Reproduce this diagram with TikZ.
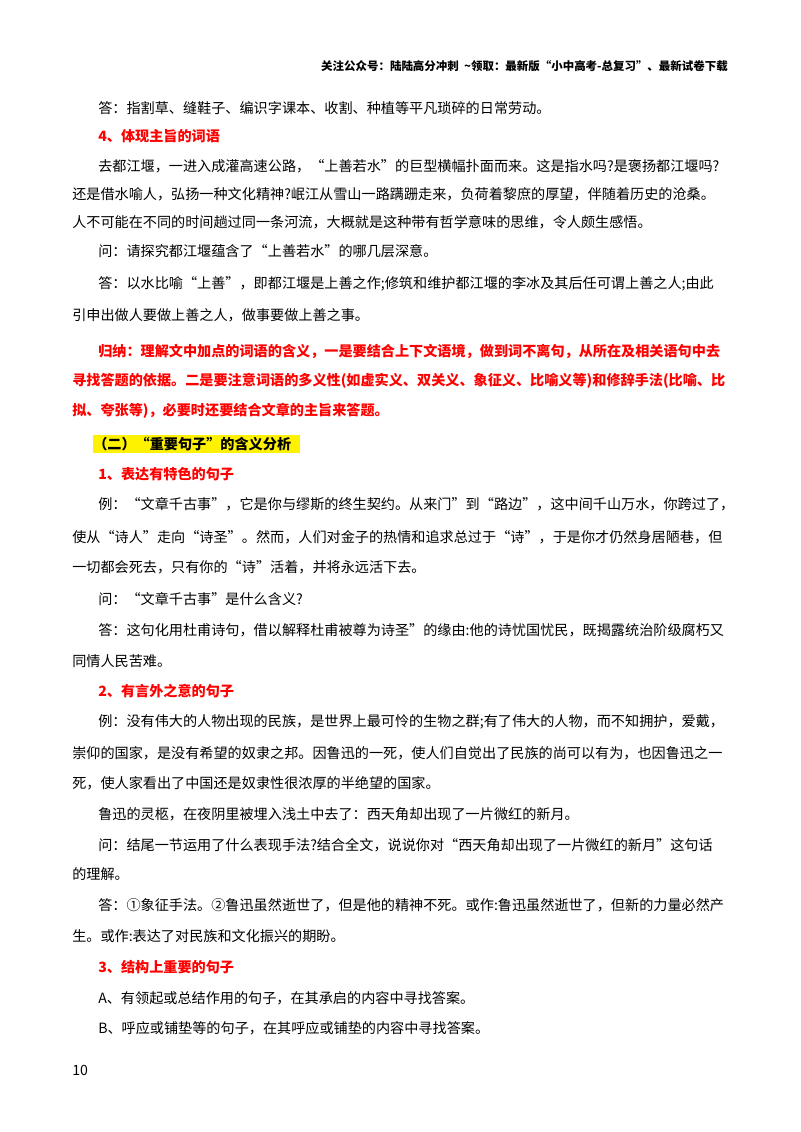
\documentclass[tikz,border=0pt]{standalone}
\usepackage{fontspec}
\setmainfont{Noto Sans CJK SC}
\newfontfamily\cjkbold{Noto Sans CJK SC Bold}
\newcommand{\bodyfont}{\fontsize{10.6}{13}\selectfont}
\begin{document}
\begin{tikzpicture}[x=0.75pt,y=-0.75pt,
  txt/.style={anchor=west,inner sep=0pt,font=\bodyfont},
  hd/.style={txt,text=red,font=\bodyfont\bfseries}]
\useasboundingbox[fill=white] (0,0) rectangle (800,1132);
\node[anchor=east,inner sep=0pt,font=\fontsize{8.6}{10}\selectfont\bfseries] (hdr) at (728,66) {关注公众号：陆陆高分冲刺\ \ \textasciitilde 领取：最新版“小中高考-总复习”、最新试卷下载};
\node[txt] (a1) at (98,108) {答：指割草、缝鞋子、编识字课本、收割、种植等平凡琐碎的日常劳动。};
\node[hd] (h4) at (98,136) {4、体现主旨的词语};
\node[txt] (p1) at (98,166) {去都江堰，一进入成灌高速公路，“上善若水”的巨型横幅扑面而来。这是指水吗?是褒扬都江堰吗?};
\node[txt] (p2) at (72,194) {还是借水喻人，弘扬一种文化精神?岷江从雪山一路蹒跚走来，负荷着黎庶的厚望，伴随着历史的沧桑。};
\node[txt] (p3) at (72,222) {人不可能在不同的时间趟过同一条河流，大概就是这种带有哲学意味的思维，令人颇生感悟。};
\node[txt] (q1) at (98,251) {问：请探究都江堰蕴含了“上善若水”的哪几层深意。};
\node[txt] (a2) at (98,284) {答：以水比喻“上善”，即都江堰是上善之作;修筑和维护都江堰的李冰及其后任可谓上善之人;由此};
\node[txt] (a3) at (72,315) {引申出做人要做上善之人，做事要做上善之事。};
\node[hd] (g1) at (98,351) {归纳：理解文中加点的词语的含义，一是要结合上下文语境，做到词不离句，从所在及相关语句中去};
\node[hd] (g2) at (72,381) {寻找答题的依据。二是要注意词语的多义性(如虚实义、双关义、象征义、比喻义等)和修辞手法(比喻、比};
\node[hd] (g3) at (72,411) {拟、夸张等)，必要时还要结合文章的主旨来答题。};
\fill[yellow] (93,435) rectangle (300,453);
\node[txt,font=\bodyfont\bfseries] (s2) at (93,444) {（二）“重要句子”的含义分析};
\node[hd] (h1) at (98,474) {1、表达有特色的句子};
\node[txt] (e1) at (98,504) {例：“文章千古事”，它是你与缪斯的终生契约。从来门”到“路边”，这中间千山万水，你跨过了，};
\node[txt] (e2) at (72,537) {使从“诗人”走向“诗圣”。然而，人们对金子的热情和追求总过于“诗”，于是你才仍然身居陋巷，但};
\node[txt] (e3) at (72,567) {一切都会死去，只有你的“诗”活着，并将永远活下去。};
\node[txt] (q2) at (98,599) {问：“文章千古事”是什么含义?};
\node[txt] (a4) at (98,630) {答：这句化用杜甫诗句，借以解释杜甫被尊为诗圣”的缘由:他的诗忧国忧民，既揭露统治阶级腐朽又};
\node[txt] (a5) at (72,661) {同情人民苦难。};
\node[hd] (h2) at (98,691) {2、有言外之意的句子};
\node[txt] (f1) at (98,722) {例：没有伟大的人物出现的民族，是世界上最可怜的生物之群;有了伟大的人物，而不知拥护，爱戴，};
\node[txt] (f2) at (72,753) {崇仰的国家，是没有希望的奴隶之邦。因鲁迅的一死，使人们自觉出了民族的尚可以有为，也因鲁迅之一};
\node[txt] (f3) at (72,783) {死，使人家看出了中国还是奴隶性很浓厚的半绝望的国家。};
\node[txt] (f4) at (98,814) {鲁迅的灵柩，在夜阴里被埋入浅土中去了：西天角却出现了一片微红的新月。};
\node[txt] (q3) at (98,845) {问：结尾一节运用了什么表现手法?结合全文，说说你对“西天角却出现了一片微红的新月”这句话};
\node[txt] (q4) at (72,874) {的理解。};
\node[txt] (a6) at (98,905) {答：①象征手法。②鲁迅虽然逝世了，但是他的精神不死。或作:鲁迅虽然逝世了，但新的力量必然产};
\node[txt] (a7) at (72,936) {生。或作:表达了对民族和文化振兴的期盼。};
\node[hd] (h3) at (98,967) {3、结构上重要的句子};
\node[txt] (b1) at (98,998) {A、有领起或总结作用的句子，在其承启的内容中寻找答案。};
\node[txt] (b2) at (98,1028) {B、呼应或铺垫等的句子，在其呼应或铺垫的内容中寻找答案。};
\node[txt] (pg) at (72,1070) {10};
\end{tikzpicture}
\end{document}
